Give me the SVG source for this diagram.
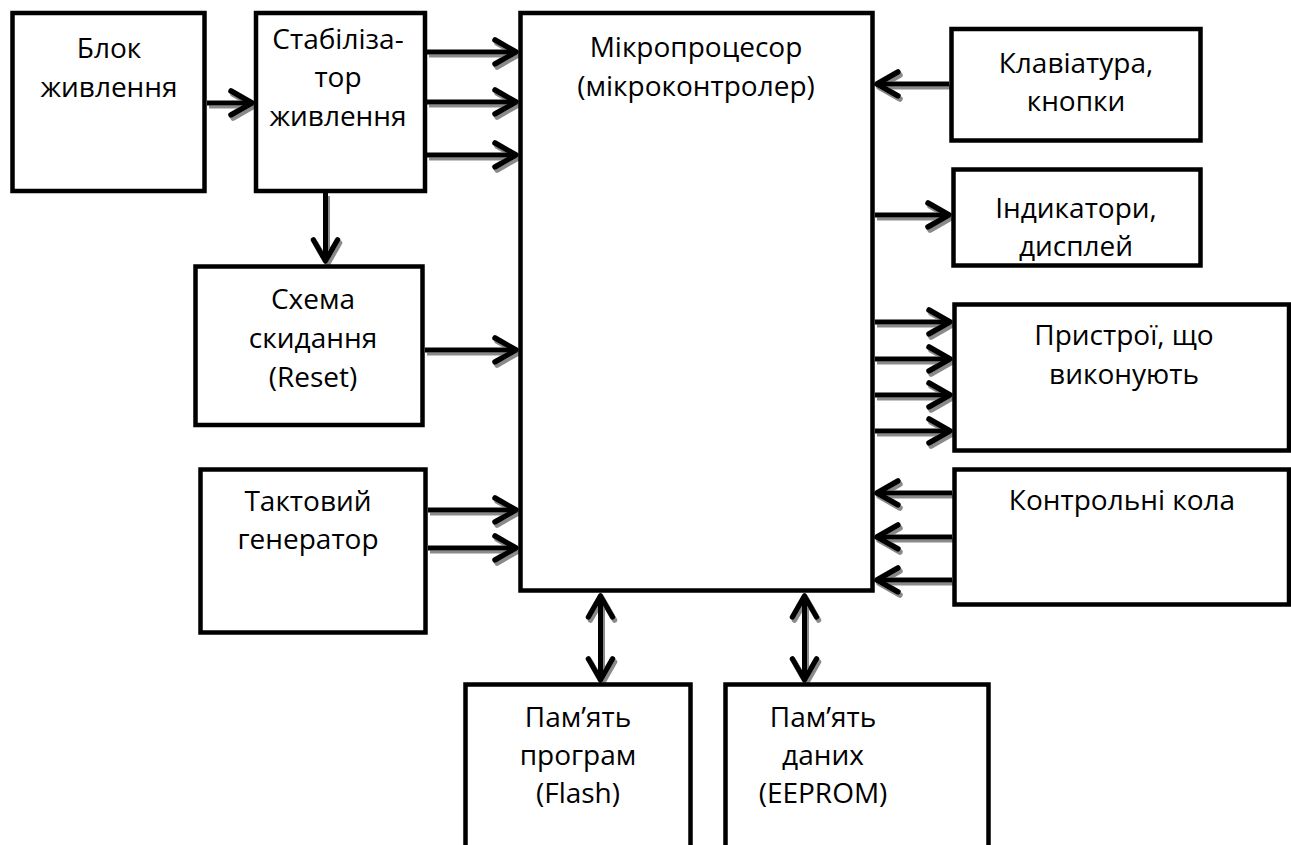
<svg xmlns="http://www.w3.org/2000/svg" width="1291" height="845" viewBox="0 0 1291 845">
<style>
.box{fill:#fff;stroke:#000;stroke-width:4.5}
.t{font-family:"Open Sans","Noto Sans","DejaVu Sans",sans-serif;font-size:28px;fill:#000;text-anchor:middle}
.c{fill:none;stroke:#000;stroke-width:5;marker-end:url(#ah)}
.b{marker-start:url(#ah);marker-end:url(#ah)}
</style>
<defs>
<marker id="ah" markerUnits="userSpaceOnUse" viewBox="-26 -16 32 32" refX="0" refY="0" markerWidth="32" markerHeight="32" orient="auto-start-reverse">
<path d="M -21 -12 L 0 0 L -21 12" fill="none" stroke="#000" stroke-width="5.5" stroke-linecap="round" stroke-linejoin="round"/>
</marker>
<filter id="sh" x="-20%" y="-20%" width="140%" height="140%">
<feDropShadow dx="2" dy="3" stdDeviation="0.6" flood-color="#8a8a8a" flood-opacity="1"/>
</filter>
</defs>
<rect width="1291" height="845" fill="#fff"/>
<g id="connectors" filter="url(#sh)">
<line class="c" x1="207" y1="103" x2="252" y2="103"/>
<line class="c" x1="427" y1="52" x2="516" y2="52"/>
<line class="c" x1="427" y1="102" x2="516" y2="102"/>
<line class="c" x1="427" y1="155" x2="516" y2="155"/>
<line class="c" x1="325.5" y1="193" x2="325.5" y2="261"/>
<line class="c" x1="425" y1="350" x2="516" y2="350"/>
<line class="c" x1="428" y1="510" x2="516" y2="510"/>
<line class="c" x1="428" y1="548" x2="516" y2="548"/>
<line class="c" x1="949" y1="84" x2="877" y2="84"/>
<line class="c" x1="875" y1="215" x2="949" y2="215"/>
<line class="c" x1="875" y1="322" x2="950" y2="322"/>
<line class="c" x1="875" y1="359" x2="950" y2="359"/>
<line class="c" x1="875" y1="395" x2="950" y2="395"/>
<line class="c" x1="875" y1="431" x2="950" y2="431"/>
<line class="c" x1="952" y1="493" x2="877" y2="493"/>
<line class="c" x1="952" y1="537" x2="877" y2="537"/>
<line class="c" x1="952" y1="580" x2="877" y2="580"/>
<line class="c b" x1="600.5" y1="596" x2="600.5" y2="680"/>
<line class="c b" x1="804.5" y1="596" x2="804.5" y2="680"/>
</g>
<g id="blok">
<rect class="box" x="12.5" y="13" width="192" height="178"/>
<text class="t" x="109" y="58">Блок</text>
<text class="t" x="109" y="97">живлення</text>
</g>
<g id="stab">
<rect class="box" x="256" y="13" width="169" height="178"/>
<text class="t" x="338" y="49">Стабіліза-</text>
<text class="t" x="338" y="87">тор</text>
<text class="t" x="338" y="126">живлення</text>
</g>
<g id="micro">
<rect class="box" x="520.5" y="13" width="352" height="577.5"/>
<text class="t" x="696" y="57">Мікропроцесор</text>
<text class="t" x="696" y="96">(мікроконтролер)</text>
</g>
<g id="reset">
<rect class="box" x="195.5" y="266.5" width="227" height="158.5"/>
<text class="t" x="313" y="309">Схема</text>
<text class="t" x="313" y="348">скидання</text>
<text class="t" x="313" y="387">(Reset)</text>
</g>
<g id="tact">
<rect class="box" x="200.5" y="469.5" width="225" height="163"/>
<text class="t" x="308" y="511">Тактовий</text>
<text class="t" x="308" y="549">генератор</text>
</g>
<g id="klav">
<rect class="box" x="951.5" y="29" width="249" height="111.5"/>
<text class="t" x="1076" y="73">Клавіатура,</text>
<text class="t" x="1076" y="111">кнопки</text>
</g>
<g id="ind">
<rect class="box" x="953.5" y="169.5" width="247" height="96"/>
<text class="t" x="1076" y="218">Індикатори,</text>
<text class="t" x="1076" y="256">дисплей</text>
</g>
<g id="prystroi">
<rect class="box" x="954.5" y="304.5" width="334.5" height="146"/>
<text class="t" x="1124" y="345">Пристрої, що</text>
<text class="t" x="1124" y="384">виконують</text>
</g>
<g id="kontrol">
<rect class="box" x="954.5" y="469.5" width="334.5" height="135"/>
<text class="t" x="1122" y="510">Контрольні кола</text>
</g>
<g id="flash">
<rect class="box" x="465.5" y="684.5" width="225" height="175"/>
<text class="t" x="578" y="727">Пам’ять</text>
<text class="t" x="578" y="765">програм</text>
<text class="t" x="578" y="803">(Flash)</text>
</g>
<g id="eeprom">
<rect class="box" x="725.5" y="684.5" width="263" height="175"/>
<text class="t" x="823" y="727">Пам’ять</text>
<text class="t" x="823" y="765">даних</text>
<text class="t" x="823" y="803">(EEPROM)</text>
</g>
</svg>
